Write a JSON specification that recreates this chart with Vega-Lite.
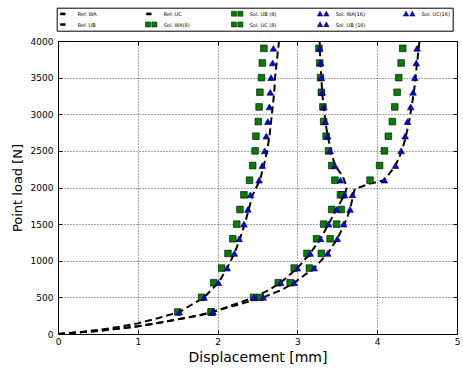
{
  "$schema": "https://vega.github.io/schema/vega-lite/v6.json",
  "width": 399,
  "height": 293,
  "autosize": {"type": "none"},
  "padding": {"left": 58, "top": 41, "right": 6, "bottom": 36},
  "background": "white",
  "config": {
    "font": "DejaVu Sans",
    "view": {"stroke": "black", "strokeWidth": 1},
    "axis": {
      "domainColor": "black", "tickColor": "black", "labelColor": "black", "titleColor": "black",
      "labelFont": "DejaVu Sans", "titleFont": "DejaVu Sans",
      "labelFontSize": 9, "titleFontWeight": "normal",
      "tickSize": -4, "tickWidth": 1, "domainWidth": 1,
      "gridColor": "black", "gridOpacity": 1, "gridDash": [1, 2], "gridWidth": 0.7
    }
  },
  "datasets": {
    "d": [
      {"s": "Ref. WA", "x": 0, "y": 0}, {"s": "Ref. WA", "x": 0.25, "y": 22}, {"s": "Ref. WA", "x": 0.5, "y": 55},
      {"s": "Ref. WA", "x": 0.75, "y": 95}, {"s": "Ref. WA", "x": 1.0, "y": 145}, {"s": "Ref. WA", "x": 1.25, "y": 215},
      {"s": "Ref. WA", "x": 1.52, "y": 300}, {"s": "Ref. WA", "x": 1.83, "y": 500}, {"s": "Ref. WA", "x": 2.01, "y": 700},
      {"s": "Ref. WA", "x": 2.12, "y": 900}, {"s": "Ref. WA", "x": 2.21, "y": 1100}, {"s": "Ref. WA", "x": 2.28, "y": 1300},
      {"s": "Ref. WA", "x": 2.34, "y": 1500}, {"s": "Ref. WA", "x": 2.39, "y": 1700}, {"s": "Ref. WA", "x": 2.44, "y": 1900},
      {"s": "Ref. WA", "x": 2.53, "y": 2100}, {"s": "Ref. WA", "x": 2.58, "y": 2300}, {"s": "Ref. WA", "x": 2.62, "y": 2500},
      {"s": "Ref. WA", "x": 2.65, "y": 2700}, {"s": "Ref. WA", "x": 2.67, "y": 2900}, {"s": "Ref. WA", "x": 2.69, "y": 3100},
      {"s": "Ref. WA", "x": 2.71, "y": 3300}, {"s": "Ref. WA", "x": 2.72, "y": 3500}, {"s": "Ref. WA", "x": 2.74, "y": 3700},
      {"s": "Ref. WA", "x": 2.76, "y": 3900}, {"s": "Ref. WA", "x": 2.77, "y": 4000},

      {"s": "Ref. UB", "x": 0, "y": 0}, {"s": "Ref. UB", "x": 0.5, "y": 42}, {"s": "Ref. UB", "x": 1.0, "y": 105},
      {"s": "Ref. UB", "x": 1.25, "y": 150}, {"s": "Ref. UB", "x": 1.5, "y": 200}, {"s": "Ref. UB", "x": 1.75, "y": 250},
      {"s": "Ref. UB", "x": 1.94, "y": 300}, {"s": "Ref. UB", "x": 2.2, "y": 400}, {"s": "Ref. UB", "x": 2.46, "y": 500},
      {"s": "Ref. UB", "x": 2.64, "y": 600}, {"s": "Ref. UB", "x": 2.79, "y": 700}, {"s": "Ref. UB", "x": 3.0, "y": 900},
      {"s": "Ref. UB", "x": 3.16, "y": 1100}, {"s": "Ref. UB", "x": 3.29, "y": 1300}, {"s": "Ref. UB", "x": 3.39, "y": 1500},
      {"s": "Ref. UB", "x": 3.49, "y": 1700}, {"s": "Ref. UB", "x": 3.59, "y": 1900}, {"s": "Ref. UB", "x": 3.62, "y": 2000},
      {"s": "Ref. UB", "x": 3.57, "y": 2150}, {"s": "Ref. UB", "x": 3.47, "y": 2300}, {"s": "Ref. UB", "x": 3.42, "y": 2500},
      {"s": "Ref. UB", "x": 3.38, "y": 2700}, {"s": "Ref. UB", "x": 3.35, "y": 2900}, {"s": "Ref. UB", "x": 3.33, "y": 3100},
      {"s": "Ref. UB", "x": 3.31, "y": 3300}, {"s": "Ref. UB", "x": 3.3, "y": 3500}, {"s": "Ref. UB", "x": 3.29, "y": 3700},
      {"s": "Ref. UB", "x": 3.28, "y": 3900}, {"s": "Ref. UB", "x": 3.28, "y": 4000},

      {"s": "Ref. UC", "x": 0, "y": 0}, {"s": "Ref. UC", "x": 0.5, "y": 42}, {"s": "Ref. UC", "x": 1.0, "y": 105},
      {"s": "Ref. UC", "x": 1.25, "y": 150}, {"s": "Ref. UC", "x": 1.5, "y": 200}, {"s": "Ref. UC", "x": 1.75, "y": 250},
      {"s": "Ref. UC", "x": 1.94, "y": 300}, {"s": "Ref. UC", "x": 2.25, "y": 400}, {"s": "Ref. UC", "x": 2.57, "y": 500},
      {"s": "Ref. UC", "x": 2.8, "y": 600}, {"s": "Ref. UC", "x": 2.96, "y": 700}, {"s": "Ref. UC", "x": 3.21, "y": 900},
      {"s": "Ref. UC", "x": 3.38, "y": 1100}, {"s": "Ref. UC", "x": 3.5, "y": 1300}, {"s": "Ref. UC", "x": 3.59, "y": 1500},
      {"s": "Ref. UC", "x": 3.66, "y": 1700}, {"s": "Ref. UC", "x": 3.7, "y": 1900}, {"s": "Ref. UC", "x": 3.72, "y": 1985},
      {"s": "Ref. UC", "x": 3.8, "y": 2010}, {"s": "Ref. UC", "x": 3.9, "y": 2050}, {"s": "Ref. UC", "x": 4.09, "y": 2100},
      {"s": "Ref. UC", "x": 4.23, "y": 2300}, {"s": "Ref. UC", "x": 4.31, "y": 2500}, {"s": "Ref. UC", "x": 4.36, "y": 2700},
      {"s": "Ref. UC", "x": 4.4, "y": 2900}, {"s": "Ref. UC", "x": 4.43, "y": 3100}, {"s": "Ref. UC", "x": 4.46, "y": 3300},
      {"s": "Ref. UC", "x": 4.48, "y": 3500}, {"s": "Ref. UC", "x": 4.5, "y": 3700}, {"s": "Ref. UC", "x": 4.52, "y": 3900},
      {"s": "Ref. UC", "x": 4.53, "y": 4000},

      {"s": "Sol. WA(8)", "x": 1.5, "y": 300}, {"s": "Sol. WA(8)", "x": 1.8, "y": 500}, {"s": "Sol. WA(8)", "x": 1.95, "y": 700},
      {"s": "Sol. WA(8)", "x": 2.05, "y": 900}, {"s": "Sol. WA(8)", "x": 2.13, "y": 1100}, {"s": "Sol. WA(8)", "x": 2.19, "y": 1300},
      {"s": "Sol. WA(8)", "x": 2.24, "y": 1500}, {"s": "Sol. WA(8)", "x": 2.28, "y": 1700}, {"s": "Sol. WA(8)", "x": 2.33, "y": 1900},
      {"s": "Sol. WA(8)", "x": 2.4, "y": 2100}, {"s": "Sol. WA(8)", "x": 2.44, "y": 2300}, {"s": "Sol. WA(8)", "x": 2.47, "y": 2500},
      {"s": "Sol. WA(8)", "x": 2.48, "y": 2700}, {"s": "Sol. WA(8)", "x": 2.51, "y": 2900}, {"s": "Sol. WA(8)", "x": 2.52, "y": 3100},
      {"s": "Sol. WA(8)", "x": 2.53, "y": 3300}, {"s": "Sol. WA(8)", "x": 2.55, "y": 3500}, {"s": "Sol. WA(8)", "x": 2.56, "y": 3700},
      {"s": "Sol. WA(8)", "x": 2.58, "y": 3900},

      {"s": "Sol. UB (8)", "x": 1.92, "y": 300}, {"s": "Sol. UB (8)", "x": 2.45, "y": 500}, {"s": "Sol. UB (8)", "x": 2.76, "y": 700},
      {"s": "Sol. UB (8)", "x": 2.96, "y": 900}, {"s": "Sol. UB (8)", "x": 3.12, "y": 1100}, {"s": "Sol. UB (8)", "x": 3.24, "y": 1300},
      {"s": "Sol. UB (8)", "x": 3.33, "y": 1500}, {"s": "Sol. UB (8)", "x": 3.43, "y": 1700}, {"s": "Sol. UB (8)", "x": 3.54, "y": 1900},
      {"s": "Sol. UB (8)", "x": 3.47, "y": 2100}, {"s": "Sol. UB (8)", "x": 3.43, "y": 2300}, {"s": "Sol. UB (8)", "x": 3.39, "y": 2500},
      {"s": "Sol. UB (8)", "x": 3.36, "y": 2700}, {"s": "Sol. UB (8)", "x": 3.33, "y": 2900}, {"s": "Sol. UB (8)", "x": 3.32, "y": 3100},
      {"s": "Sol. UB (8)", "x": 3.3, "y": 3300}, {"s": "Sol. UB (8)", "x": 3.29, "y": 3500}, {"s": "Sol. UB (8)", "x": 3.28, "y": 3700},
      {"s": "Sol. UB (8)", "x": 3.27, "y": 3900},

      {"s": "Sol. UC (8)", "x": 1.92, "y": 300}, {"s": "Sol. UC (8)", "x": 2.53, "y": 500}, {"s": "Sol. UC (8)", "x": 2.91, "y": 700},
      {"s": "Sol. UC (8)", "x": 3.15, "y": 900}, {"s": "Sol. UC (8)", "x": 3.3, "y": 1100}, {"s": "Sol. UC (8)", "x": 3.41, "y": 1300},
      {"s": "Sol. UC (8)", "x": 3.49, "y": 1500}, {"s": "Sol. UC (8)", "x": 3.55, "y": 1700}, {"s": "Sol. UC (8)", "x": 3.57, "y": 1900},
      {"s": "Sol. UC (8)", "x": 3.91, "y": 2100}, {"s": "Sol. UC (8)", "x": 4.03, "y": 2300}, {"s": "Sol. UC (8)", "x": 4.09, "y": 2500},
      {"s": "Sol. UC (8)", "x": 4.14, "y": 2700}, {"s": "Sol. UC (8)", "x": 4.19, "y": 2900}, {"s": "Sol. UC (8)", "x": 4.22, "y": 3100},
      {"s": "Sol. UC (8)", "x": 4.25, "y": 3300}, {"s": "Sol. UC (8)", "x": 4.27, "y": 3500}, {"s": "Sol. UC (8)", "x": 4.3, "y": 3700},
      {"s": "Sol. UC (8)", "x": 4.32, "y": 3900},

      {"s": "Sol. WA(16)", "x": 1.52, "y": 300}, {"s": "Sol. WA(16)", "x": 1.83, "y": 500}, {"s": "Sol. WA(16)", "x": 2.01, "y": 700},
      {"s": "Sol. WA(16)", "x": 2.12, "y": 900}, {"s": "Sol. WA(16)", "x": 2.21, "y": 1100}, {"s": "Sol. WA(16)", "x": 2.27, "y": 1300},
      {"s": "Sol. WA(16)", "x": 2.33, "y": 1500}, {"s": "Sol. WA(16)", "x": 2.38, "y": 1700}, {"s": "Sol. WA(16)", "x": 2.41, "y": 1900},
      {"s": "Sol. WA(16)", "x": 2.52, "y": 2100}, {"s": "Sol. WA(16)", "x": 2.56, "y": 2300}, {"s": "Sol. WA(16)", "x": 2.59, "y": 2500},
      {"s": "Sol. WA(16)", "x": 2.61, "y": 2700}, {"s": "Sol. WA(16)", "x": 2.63, "y": 2900}, {"s": "Sol. WA(16)", "x": 2.65, "y": 3100},
      {"s": "Sol. WA(16)", "x": 2.66, "y": 3300}, {"s": "Sol. WA(16)", "x": 2.67, "y": 3500}, {"s": "Sol. WA(16)", "x": 2.69, "y": 3700},
      {"s": "Sol. WA(16)", "x": 2.7, "y": 3900},

      {"s": "Sol. UB (16)", "x": 1.94, "y": 300}, {"s": "Sol. UB (16)", "x": 2.46, "y": 500}, {"s": "Sol. UB (16)", "x": 2.79, "y": 700},
      {"s": "Sol. UB (16)", "x": 3.0, "y": 900}, {"s": "Sol. UB (16)", "x": 3.16, "y": 1100}, {"s": "Sol. UB (16)", "x": 3.29, "y": 1300},
      {"s": "Sol. UB (16)", "x": 3.39, "y": 1500}, {"s": "Sol. UB (16)", "x": 3.49, "y": 1700}, {"s": "Sol. UB (16)", "x": 3.59, "y": 1900},
      {"s": "Sol. UB (16)", "x": 3.54, "y": 2100}, {"s": "Sol. UB (16)", "x": 3.47, "y": 2300}, {"s": "Sol. UB (16)", "x": 3.41, "y": 2500},
      {"s": "Sol. UB (16)", "x": 3.38, "y": 2700}, {"s": "Sol. UB (16)", "x": 3.35, "y": 2900}, {"s": "Sol. UB (16)", "x": 3.33, "y": 3100},
      {"s": "Sol. UB (16)", "x": 3.31, "y": 3300}, {"s": "Sol. UB (16)", "x": 3.3, "y": 3500}, {"s": "Sol. UB (16)", "x": 3.29, "y": 3700},
      {"s": "Sol. UB (16)", "x": 3.28, "y": 3900},

      {"s": "Sol. UC(16)", "x": 1.94, "y": 300}, {"s": "Sol. UC(16)", "x": 2.57, "y": 500}, {"s": "Sol. UC(16)", "x": 2.96, "y": 700},
      {"s": "Sol. UC(16)", "x": 3.21, "y": 900}, {"s": "Sol. UC(16)", "x": 3.38, "y": 1100}, {"s": "Sol. UC(16)", "x": 3.5, "y": 1300},
      {"s": "Sol. UC(16)", "x": 3.58, "y": 1500}, {"s": "Sol. UC(16)", "x": 3.66, "y": 1700}, {"s": "Sol. UC(16)", "x": 3.69, "y": 1900},
      {"s": "Sol. UC(16)", "x": 4.09, "y": 2100}, {"s": "Sol. UC(16)", "x": 4.23, "y": 2300}, {"s": "Sol. UC(16)", "x": 4.3, "y": 2500},
      {"s": "Sol. UC(16)", "x": 4.35, "y": 2700}, {"s": "Sol. UC(16)", "x": 4.38, "y": 2900}, {"s": "Sol. UC(16)", "x": 4.42, "y": 3100},
      {"s": "Sol. UC(16)", "x": 4.45, "y": 3300}, {"s": "Sol. UC(16)", "x": 4.47, "y": 3500}, {"s": "Sol. UC(16)", "x": 4.49, "y": 3700},
      {"s": "Sol. UC(16)", "x": 4.5, "y": 3900}
    ]
  },
  "data": {"name": "d"},
  "layer": [
    {
      "transform": [{"filter": "indexof(datum.s, 'Ref') == 0"}],
      "mark": {"type": "line", "stroke": "black", "strokeWidth": 2, "strokeDash": [7, 4], "clip": true},
      "encoding": {
        "x": {"field": "x", "type": "quantitative", "scale": {"domain": [0, 5], "nice": false},
          "axis": {"orient": "bottom", "values": [0, 1, 2, 3, 4, 5], "format": "d", "title": "Displacement [mm]", "titleFontSize": 14, "grid": true, "labelPadding": 7, "titlePadding": 4, "labelFlush": false}},
        "y": {"field": "y", "type": "quantitative", "scale": {"domain": [0, 4000], "nice": false},
          "axis": {"orient": "left", "values": [0, 500, 1000, 1500, 2000, 2500, 3000, 3500, 4000], "format": "d", "title": "Point load [N]", "titleFontSize": 13, "grid": true, "labelPadding": 9, "titlePadding": 6, "labelFlush": false}},
        "detail": {"field": "s"},
        "order": {"field": "y", "type": "quantitative"}
      }
    },
    {
      "transform": [
        {"filter": "indexof(datum.s, 'Sol') == 0"},
        {"calculate": "indexof(datum.s, '16') > 0 ? 'tri' : 'sq'", "as": "m"}
      ],
      "mark": {"type": "point", "filled": true, "opacity": 1, "stroke": "black", "strokeWidth": 0.6, "size": 44},
      "encoding": {
        "x": {"field": "x", "type": "quantitative", "scale": {"domain": [0, 5], "nice": false},
          "axis": {"orient": "top", "values": [0, 1, 2, 3, 4, 5], "labels": false, "title": null, "grid": false, "domain": false}},
        "y": {"field": "y", "type": "quantitative", "scale": {"domain": [0, 4000], "nice": false},
          "axis": {"orient": "right", "values": [0, 500, 1000, 1500, 2000, 2500, 3000, 3500, 4000], "labels": false, "title": null, "grid": false, "domain": false}},
        "fill": {
          "field": "s", "type": "nominal",
          "scale": {
            "domain": ["Ref. WA", "Ref. UC", "Sol. UB (8)", "Sol. WA(16)", "Sol. UC(16)", "Ref. UB", "Sol. WA(8)", "Sol. UC (8)", "Sol. UB (16)"],
            "range": ["black", "black", "#008000", "#0000ff", "#0000ff", "black", "#008000", "#008000", "#0000ff"]
          },
          "legend": {
            "title": null, "orient": "none", "legendX": -1.3, "legendY": -33.3,
            "direction": "horizontal", "columns": 5, "gridAlign": "all",
            "columnPadding": 36, "rowPadding": 2.3, "padding": 2,
            "strokeColor": "black", "fillColor": "white",
            "labelFontSize": 5, "labelColor": "black", "labelFont": "DejaVu Sans",
            "symbolSize": 36, "symbolOffset": 3, "labelOffset": 9,
            "symbolStrokeColor": "black", "symbolStrokeWidth": 0.5, "symbolOpacity": 1,
            "symbolType": {"expr": "indexof(datum.value, 'Ref') == 0 ? 'M-1.6,-0.35H0V0.35H-1.6Z' : (indexof(datum.value, '16') > 0 ? 'M-1.95,0.75L-1.05,-0.9L-0.15,0.75Z M0.15,0.75L1.05,-0.9L1.95,0.75Z' : 'M-1.9,-0.85H-0.2V0.85H-1.9Z M0.2,-0.85H1.9V0.85H0.2Z')"}
          }
        },
        "shape": {
          "field": "m", "type": "nominal",
          "scale": {"domain": ["sq", "tri"], "range": ["square", "triangle-up"]},
          "legend": null
        }
      }
    }
  ],
  "resolve": {"axis": {"x": "independent", "y": "independent"}}
}
